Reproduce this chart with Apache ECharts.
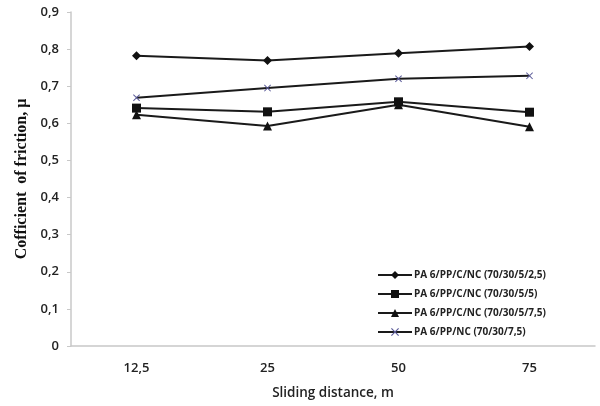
<!DOCTYPE html>
<html>
<head>
<meta charset="utf-8">
<script src="https://cdn.jsdelivr.net/npm/echarts@6/dist/echarts.min.js"></script>
<style>
  html, body { margin: 0; padding: 0; background: #fff; }
  #chart { width: 600px; height: 406px; }
</style>
</head>
<body>
<div id="chart"></div>
<script>
const distancias = ['12,5', '25', '50', '75'];
const serie1 = [0.782, 0.769, 0.789, 0.807];
const serie2 = [0.641, 0.631, 0.658, 0.630];
const serie3 = [0.623, 0.593, 0.650, 0.591];
const serie4 = [0.669, 0.695, 0.720, 0.728];
const nombres = [
    'PA 6/PP/C/NC (70/30/5/2,5)',
    'PA 6/PP/C/NC (70/30/5/5)',
    'PA 6/PP/C/NC (70/30/5/7,5)',
    'PA 6/PP/NC (70/30/7,5)'
];

const cruz = 'path://M0,1L1,0L5,4L9,0L10,1L6,5L10,9L9,10L5,6L1,10L0,9L4,5Z';

const chartDom = document.getElementById('chart');
const myChart = echarts.init(chartDom);

const linea = (name, data, symbol, size, color) => ({
    name: name,
    type: 'line',
    data: data,
    symbol: symbol,
    symbolSize: size,
    showSymbol: true,
    lineStyle: { color: '#1a1a1a', width: 2 },
    itemStyle: { color: color },
    animation: false
});

const option = {
    grid: { left: 71, right: 5, top: 12, bottom: 60 },
    legend: {
        orient: 'vertical',
        left: 372,
        top: 265,
        itemGap: 9,
        itemWidth: 34,
        itemHeight: 10,
        textStyle: { fontSize: 10, fontWeight: 'bold', color: '#222', fontFamily: 'Open Sans', padding: [0, 0, 0, -3] },
        data: nombres
    },
    xAxis: {
        type: 'category',
        data: distancias,
        name: 'Sliding distance, m',
        nameLocation: 'middle',
        nameGap: 40,
        nameTextStyle: { fontSize: 13.5, color: '#222', fontFamily: 'Open Sans', fontWeight: 600 },
        axisLine: { lineStyle: { color: '#c8c8c8', width: 1.5 } },
        axisTick: { alignWithLabel: true, length: 4, lineStyle: { color: '#c8c8c8' } },
        axisLabel: { fontSize: 13, color: '#222', fontFamily: 'Open Sans', fontWeight: 600, margin: 16 }
    },
    yAxis: {
        type: 'value',
        min: 0,
        max: 0.9,
        interval: 0.1,
        name: 'Cofficient  of friction, \u03bc',
        nameLocation: 'middle',
        nameGap: 40,
        nameTextStyle: { fontSize: 16, color: '#111', fontFamily: 'Liberation Serif', fontWeight: 'bold' },
        axisLine: { show: true, lineStyle: { color: '#c8c8c8', width: 1.5 } },
        axisTick: { show: true, length: 4, lineStyle: { color: '#c8c8c8' } },
        splitLine: { show: false },
        axisLabel: {
            fontSize: 13, color: '#222', fontFamily: 'Open Sans', fontWeight: 600, margin: 12,
            formatter: v => v === 0 ? '0' : v.toFixed(1).replace('.', ',')
        }
    },
    series: [
        linea(nombres[0], serie1, 'diamond', 9, '#111'),
        linea(nombres[1], serie2, 'rect', 9, '#111'),
        linea(nombres[2], serie3, 'triangle', 9, '#111'),
        linea(nombres[3], serie4, cruz, 7, '#5b5b99')
    ]
};

option && myChart.setOption(option);
</script>
</body>
</html>
